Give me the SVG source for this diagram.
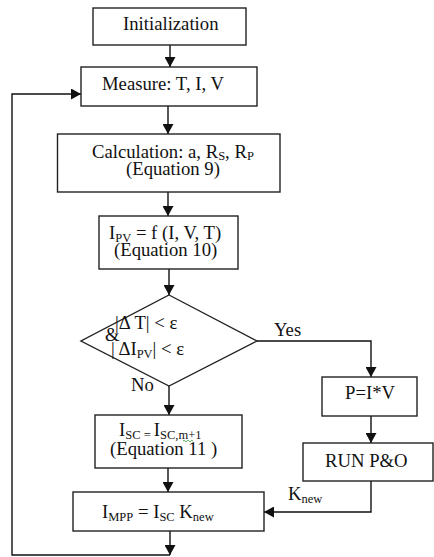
<svg xmlns="http://www.w3.org/2000/svg" width="434" height="557" viewBox="0 0 434 557">
<style>
.box{fill:#fff;stroke:#222;stroke-width:1.4}
.t{font-family:"Liberation Serif","Times New Roman",serif;font-size:18.7px;fill:#111}
.s{font-size:12.5px}
.c{fill:none;stroke:#111;stroke-width:1.4}
</style>
<defs>
<marker id="ah" markerUnits="userSpaceOnUse" markerWidth="10" markerHeight="11" refX="10" refY="5.5" orient="auto">
<path d="M0,0 L10,5.5 L0,11 z" fill="#111"/>
</marker>
</defs>
<rect width="434" height="557" fill="#fff"/>
<g id="connectors">
<path class="c" d="M170,45 V67" marker-end="url(#ah)"/>
<path class="c" d="M168,106 V134" marker-end="url(#ah)"/>
<path class="c" d="M168,192 V216" marker-end="url(#ah)"/>
<path class="c" d="M169,269 V295" marker-end="url(#ah)"/>
<path class="c" d="M169,386 V415" marker-end="url(#ah)"/>
<path class="c" d="M257,341 H371 V377" marker-end="url(#ah)"/>
<path class="c" d="M371,416 V443" marker-end="url(#ah)"/>
<path class="c" d="M371,481 V512 H264" marker-end="url(#ah)"/>
<path class="c" d="M168,468 V492" marker-end="url(#ah)"/>
<path class="c" d="M170,531 V555" marker-end="url(#ah)"/>
<path class="c" d="M170,555 H12 V94 H81" marker-end="url(#ah)"/>
</g>
<g id="init">
<rect class="box" x="93" y="8" width="153" height="37"/>
<text class="t" x="123" y="30">Initialization</text>
</g>
<g id="measure">
<rect class="box" x="81" y="67" width="176" height="39"/>
<text class="t" x="102" y="90">Measure:  T, I, V</text>
</g>
<g id="calc">
<rect class="box" x="57.5" y="134" width="222.5" height="58"/>
<text class="t" x="92" y="157.5">Calculation: a, R<tspan class="s" dy="2.5">S</tspan><tspan dy="-2.5">, R</tspan><tspan class="s" dy="2.5">P</tspan></text>
<text class="t" x="126" y="175">(Equation 9)</text>
</g>
<g id="ipv">
<rect class="box" x="99" y="216" width="139" height="53"/>
<text class="t" x="109" y="239">I<tspan class="s" dy="2.5">PV</tspan><tspan dy="-2.5"> = f (I, V, T)</tspan></text>
<text class="t" x="114" y="256">(Equation 10)</text>
</g>
<g id="decision">
<polygon class="box" points="169,295 257,341 169,386 81,341"/>
<text class="t" x="115" y="328.5">|Δ T| &lt; ε</text>
<text class="t" x="105" y="341">&amp;</text>
<text class="t" x="111" y="355">| ΔI<tspan class="s" dy="2.5">PV</tspan><tspan dy="-2.5">| &lt; ε</tspan></text>
</g>
<g id="labels">
<text class="t" x="274" y="336">Yes</text>
<text class="t" x="131" y="391">No</text>
<text class="t" x="288" y="500">K<tspan class="s" dy="2.5">new</tspan></text>
</g>
<g id="power">
<rect class="box" x="322" y="377" width="95" height="39"/>
<text class="t" x="345" y="399">P=I*V</text>
</g>
<g id="isc">
<rect class="box" x="95" y="415" width="147" height="53"/>
<text class="t" x="119" y="436">I<tspan class="s" dy="2.5">SC = </tspan><tspan dy="-2.5">I</tspan><tspan class="s" dy="2.5">SC,m+1</tspan></text>
<path d="M183,441 q1,-1.5 2,0 t2,0 t2,0 t2,0 t2,0" fill="none" stroke="#3a9a3a" stroke-width="0.8"/>
<text class="t" x="110" y="455">(Equation 11 )</text>
</g>
<g id="runpo">
<rect class="box" x="303" y="443" width="130" height="38"/>
<text class="t" x="325" y="467" font-size="21">RUN P&amp;O</text>
</g>
<g id="impp">
<rect class="box" x="73" y="492" width="191" height="39"/>
<text class="t" x="102" y="518" font-size="20">I<tspan class="s" font-size="13.5" dy="2.5">MPP</tspan><tspan dy="-2.5"> = I</tspan><tspan class="s" font-size="13.5" dy="2.5">SC</tspan><tspan dy="-2.5"> K</tspan><tspan class="s" font-size="13.5" dy="2.5">new</tspan></text>
</g>
</svg>
